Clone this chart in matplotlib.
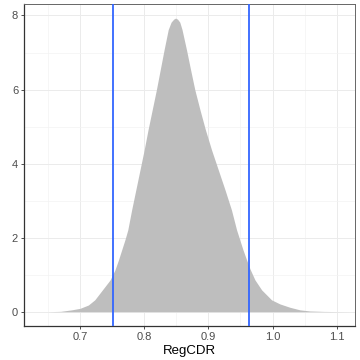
import matplotlib.pyplot as plt
from matplotlib.ticker import MultipleLocator

# density of RegCDR
regcdr = [0.650, 0.670, 0.687, 0.700, 0.713, 0.723, 0.731, 0.739, 0.747, 0.7545,
          0.760, 0.765, 0.770, 0.7745, 0.7805, 0.787, 0.7935, 0.800, 0.806, 0.8125,
          0.819, 0.825, 0.831, 0.8375, 0.842, 0.846, 0.849, 0.852, 0.8555, 0.859,
          0.866, 0.8724, 0.879, 0.887, 0.8955, 0.905, 0.9155, 0.926, 0.936, 0.944,
          0.949, 0.954, 0.9596, 0.965, 0.9726, 0.983, 0.9985, 1.0115, 1.027, 1.0427,
          1.058, 1.080, 1.100, 1.118]
density = [0.0, 0.01, 0.05, 0.09, 0.18, 0.32, 0.50, 0.68, 0.86, 1.13,
           1.40, 1.67, 1.94, 2.21, 2.75, 3.29, 3.83, 4.37, 4.91, 5.45,
           5.99, 6.53, 7.07, 7.62, 7.82, 7.90, 7.93, 7.90, 7.82, 7.62,
           7.07, 6.53, 5.99, 5.45, 4.91, 4.37, 3.83, 3.29, 2.75, 2.21,
           1.94, 1.67, 1.40, 1.15, 0.86, 0.59, 0.32, 0.21, 0.12, 0.05,
           0.02, 0.008, 0.003, 0.0]
cutoffs = [0.752, 0.964]

plt.rcParams['font.family'] = ['Liberation Sans', 'DejaVu Sans']

fig = plt.figure(figsize=(3.6, 3.6), dpi=100)
ax = fig.add_axes([24 / 360, 34 / 360, 331 / 360, 322 / 360])

ax.fill_between(regcdr, density, 0, color='#BEBEBE', linewidth=0, zorder=2)
for c in cutoffs:
    ax.axvline(c, color='#3366FF', linewidth=1.3, zorder=3)

ax.set_xlim(0.6128, 1.1285)
ax.set_ylim(-0.386, 8.31)
ax.xaxis.set_minor_locator(MultipleLocator(0.05))
ax.yaxis.set_major_locator(MultipleLocator(2))
ax.yaxis.set_minor_locator(MultipleLocator(1))
ax.set_xticks([0.7, 0.8, 0.9, 1.0, 1.1])
ax.set_xticklabels(['0.7', '0.8', '0.9', '1.0', '1.1'])

ax.grid(which='major', color='#EBEBEB', linewidth=0.7, zorder=0)
ax.grid(which='minor', color='#F3F3F3', linewidth=0.5, zorder=0)
ax.set_axisbelow(True)

for side in ['top', 'right']:
    ax.spines[side].set_color('#666666')
    ax.spines[side].set_linewidth(0.7)
for side in ['left', 'bottom']:
    ax.spines[side].set_color('#333333')
    ax.spines[side].set_linewidth(0.9)

ax.tick_params(which='major', length=2.2, width=0.6, color='#333333',
               labelsize=8, labelcolor='#4D4D4D', pad=2)
ax.tick_params(which='minor', length=0)

ax.set_xlabel('RegCDR', fontsize=9.5, color='black', labelpad=2)

fig.savefig('out.png', dpi=100)
